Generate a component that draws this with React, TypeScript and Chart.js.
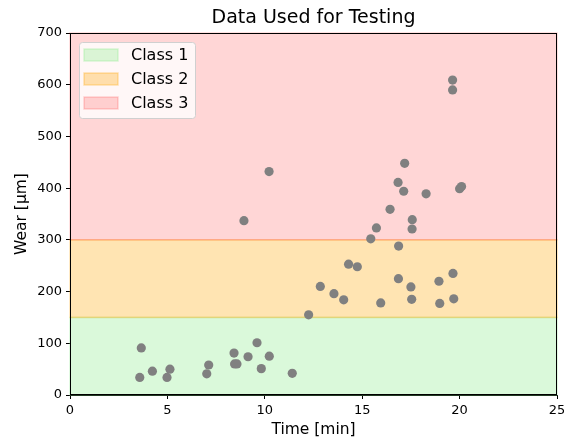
import React, { useEffect, useRef } from "react";
import { Chart, registerables } from "chart.js";

Chart.register(...registerables);

const timeMin = [
  3.58, 3.66, 4.23, 4.98, 5.13, 7.02, 7.12, 8.42, 8.45, 8.57, 9.14, 9.6, 9.82, 10.23, 11.41,
  8.93, 10.22, 12.25, 12.85, 13.55, 14.05, 14.3, 14.75, 15.95, 16.86, 17.5, 17.54, 18.94, 18.98,
  19.66, 19.7, 15.44, 16.87, 15.73, 17.56, 17.57, 16.43, 17.13, 16.84, 17.18, 18.28, 20.0, 20.1,
  19.64, 19.64,
];
const wearUm = [
  34, 91, 46, 34, 50, 41, 58, 81, 60, 60, 74, 101, 51, 75, 42,
  337, 432, 155, 210, 196, 184, 253, 248, 178, 225, 209, 185, 220, 177,
  235, 186, 302, 288, 323, 321, 339, 359, 394, 411, 448, 389, 399, 403,
  590, 609,
];

const classNames = ["Class 1", "Class 2", "Class 3"];
const classLower = [0, 150, 300];
const classUpper = [150, 300, 700];
const classColors = ["rgba(144,238,144,0.33)", "rgba(255,165,0,0.3)", "rgba(255,0,0,0.16)"];

const xTicksMax = 25;
const yTicksMax = 700;

const FONT = "'DejaVu Sans', sans-serif";

const bandsPlugin = {
  id: "bands",
  beforeDatasetsDraw(chart: any) {
    const { ctx, chartArea, scales } = chart;
    const y = scales.y;
    ctx.save();
    for (let i = 0; i < classNames.length; i++) {
      const top = y.getPixelForValue(classUpper[i]);
      const bot = y.getPixelForValue(classLower[i]);
      ctx.fillStyle = classColors[i];
      ctx.fillRect(chartArea.left, top, chartArea.right - chartArea.left, bot - top);
      ctx.strokeStyle = classColors[i];
      ctx.lineWidth = 1.5;
      ctx.strokeRect(chartArea.left, top, chartArea.right - chartArea.left, bot - top);
    }
    ctx.restore();
  },
  afterDatasetsDraw(chart: any) {
    const { ctx, chartArea } = chart;
    ctx.save();
    const lx = chartArea.left + 9;
    const ly = chartArea.top + 9;
    const lw = 116;
    const lh = 76;
    ctx.beginPath();
    ctx.roundRect(lx + 0.5, ly + 0.5, lw, lh, 3);
    ctx.fillStyle = "rgba(255,255,255,0.8)";
    ctx.fill();
    ctx.strokeStyle = "#d0d0d0";
    ctx.lineWidth = 1;
    ctx.stroke();
    ctx.font = `16px ${FONT}`;
    ctx.textBaseline = "middle";
    ctx.textAlign = "left";
    for (let i = 0; i < classNames.length; i++) {
      const cy = ly + 13 + i * 24;
      ctx.fillStyle = classColors[i];
      ctx.fillRect(lx + 5, cy - 6, 34, 12);
      ctx.strokeStyle = classColors[i];
      ctx.lineWidth = 1.5;
      ctx.strokeRect(lx + 5, cy - 6, 34, 12);
      ctx.fillStyle = "#000";
      ctx.fillText(classNames[i], lx + 52, cy + 1);
    }
    ctx.restore();
  },
  afterDraw(chart: any) {
    const { ctx, chartArea } = chart;
    ctx.save();
    ctx.strokeStyle = "#000";
    ctx.lineWidth = 1;
    ctx.strokeRect(
      Math.round(chartArea.left) + 0.5,
      Math.round(chartArea.top) + 0.5,
      Math.round(chartArea.right - chartArea.left) - 1,
      Math.round(chartArea.bottom - chartArea.top) - 1
    );
    ctx.font = `19px ${FONT}`;
    ctx.fillStyle = "#000";
    ctx.textAlign = "center";
    ctx.textBaseline = "middle";
    ctx.fillText("Data Used for Testing", (chartArea.left + chartArea.right) / 2, 18);
    ctx.restore();
  },
};

export default function App() {
  const ref = useRef<HTMLCanvasElement | null>(null);
  useEffect(() => {
    document.body.style.margin = "0";
    if (!ref.current) return;
    const chart = new Chart(ref.current, {
      type: "scatter",
      data: {
        datasets: [
          {
            label: "Samples",
            data: timeMin.map((t, i) => ({ x: t, y: wearUm[i] })),
            backgroundColor: "#808080",
            borderWidth: 0,
            pointRadius: 4.6,
            pointHoverRadius: 4.6,
          },
        ],
      },
      options: {
        responsive: false,
        animation: false,
        layout: { padding: { top: 33, right: 7, left: 0, bottom: 0 } },
        plugins: { legend: { display: false }, tooltip: { enabled: false }, title: { display: false } },
        scales: {
          x: {
            type: "linear",
            min: 0,
            max: xTicksMax,
            ticks: { stepSize: 5, color: "#000", padding: 4, font: { family: FONT, size: 13 } },
            grid: { drawOnChartArea: false, drawTicks: true, tickLength: 4, color: "#000" },
            border: { color: "#000" },
            title: {
              display: true,
              text: "Time [min]",
              color: "#000",
              font: { family: FONT, size: 15.5 },
              padding: { top: 0, bottom: 1 },
            },
            afterFit(scale: any) {
              scale.height = 45;
              scale.paddingRight = 0;
              scale.paddingLeft = 0;
            },
          },
          y: {
            type: "linear",
            min: 0,
            max: yTicksMax,
            ticks: { stepSize: 100, color: "#000", padding: 4, font: { family: FONT, size: 13 } },
            grid: { drawOnChartArea: false, drawTicks: true, tickLength: 4, color: "#000" },
            border: { color: "#000" },
            title: {
              display: true,
              text: "Wear [µm]",
              color: "#000",
              font: { family: FONT, size: 15.5 },
              padding: { top: 13, bottom: 0 },
            },
            afterFit(scale: any) {
              scale.width = 70;
              scale.paddingTop = 0;
              scale.paddingBottom = 0;
            },
          },
        },
      },
      plugins: [bandsPlugin],
    });
    return () => chart.destroy();
  }, []);
  return (
    <div style={{ width: 564, height: 440 }}>
      <canvas ref={ref} width={564} height={440} style={{ display: "block" }} />
    </div>
  );
}
